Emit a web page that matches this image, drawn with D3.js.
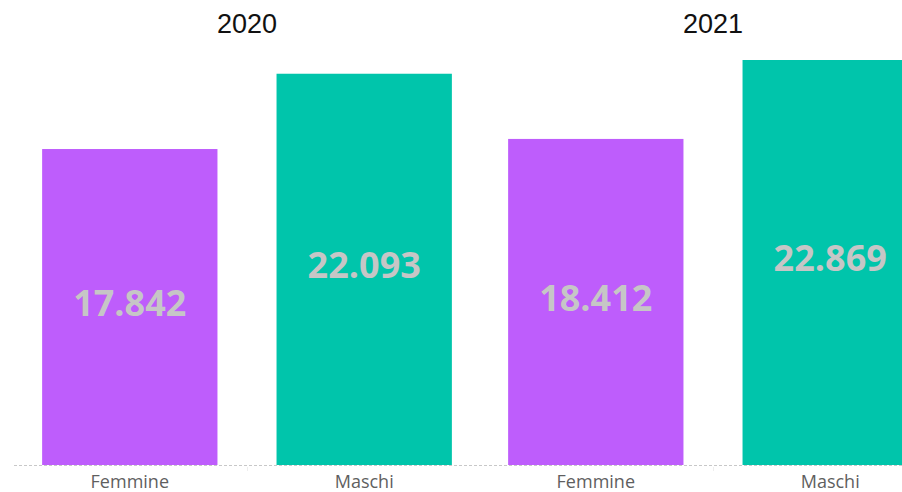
<!DOCTYPE html>
<html>
<head>
<meta charset="utf-8">
<script src="https://cdn.jsdelivr.net/npm/d3@7"></script>
<style>
  body { margin: 0; background: #fff; }
</style>
</head>
<body>
<script>
'use strict';

const width = 902;
const height = 492;

const years = ['2020', '2021'];
const sexes = ['Femmine', 'Maschi'];
const femmine = [17.842, 18.412];
const maschi = [22.093, 22.869];

const data = years.map((y, i) => [
  { year: y, sex: 'Femmine', value: femmine[i] },
  { year: y, sex: 'Maschi', value: maschi[i] }
]).flat();

const colors = { Femmine: '#be5dfc', Maschi: '#00c5ab' };
const fmt = d3.format('.3f');

const svg = d3.select('body')
  .append('svg')
  .attr('width', width)
  .attr('height', height);

const baseline = 465;

const x0 = d3.scaleBand()
  .domain(years)
  .range([14, 946]);

const x1 = d3.scaleBand()
  .domain(sexes)
  .range([0, x0.bandwidth()])
  .paddingInner(0.252)
  .paddingOuter(0.12);

const y = d3.scaleLinear()
  .domain([0, 22.869])
  .range([baseline, 60]);

// baseline
svg.append('line')
  .attr('x1', 14)
  .attr('x2', width)
  .attr('y1', baseline + 0.5)
  .attr('y2', baseline + 0.5)
  .attr('stroke', '#c8c8c8')
  .attr('stroke-dasharray', '3,2');

svg.selectAll('line.sep')
  .data(years)
  .enter()
  .append('line')
  .attr('class', 'sep')
  .attr('x1', (d) => x0(d) + x0.bandwidth() / 2 + 0.5)
  .attr('x2', (d) => x0(d) + x0.bandwidth() / 2 + 0.5)
  .attr('y1', baseline + 2)
  .attr('y2', baseline + 6)
  .attr('stroke', '#eee');

svg.selectAll('rect')
  .data(data)
  .enter()
  .append('rect')
  .attr('x', (d) => x0(d.year) + x1(d.sex))
  .attr('y', (d) => y(d.value))
  .attr('width', x1.bandwidth())
  .attr('height', (d) => baseline - y(d.value))
  .attr('fill', (d) => colors[d.sex]);

svg.selectAll('text.value')
  .data(data)
  .enter()
  .append('text')
  .attr('class', 'value')
  .text((d) => fmt(d.value))
  .attr('text-anchor', 'middle')
  .attr('x', (d) => x0(d.year) + x1(d.sex) + x1.bandwidth() / 2)
  .attr('y', (d) => (y(d.value) + baseline) / 2 - 4)
  .attr('dy', '0.36em')
  .attr('font-family', '"Open Sans", sans-serif')
  .attr('font-weight', 'bold')
  .attr('font-size', '36px')
  .attr('fill', '#c6c6c6');

svg.selectAll('text.sex')
  .data(data)
  .enter()
  .append('text')
  .attr('class', 'sex')
  .text((d) => d.sex)
  .attr('text-anchor', 'middle')
  .attr('x', (d) => x0(d.year) + x1(d.sex) + x1.bandwidth() / 2)
  .attr('y', 488)
  .attr('font-family', '"Open Sans", sans-serif')
  .attr('font-size', '18px')
  .attr('fill', '#5f5f5f');

svg.selectAll('text.year')
  .data(years)
  .enter()
  .append('text')
  .attr('class', 'year')
  .text((d) => d)
  .attr('text-anchor', 'middle')
  .attr('x', (d) => x0(d) + x0.bandwidth() / 2)
  .attr('y', 33)
  .attr('font-family', '"Liberation Sans", Arial, sans-serif')
  .attr('font-size', '27px')
  .attr('fill', '#111');
</script>
</body>
</html>
